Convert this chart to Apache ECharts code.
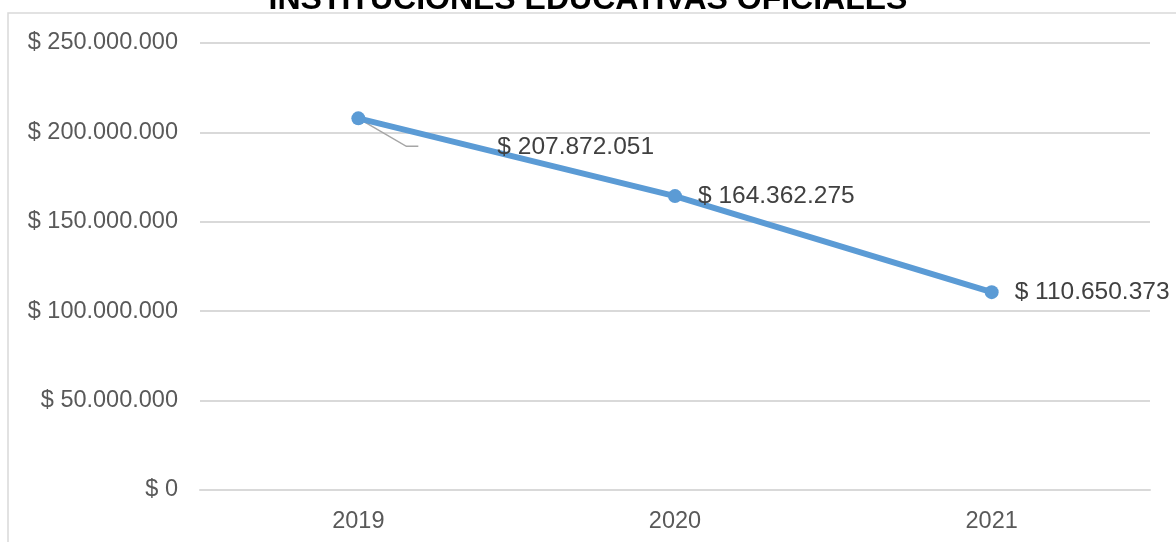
<!DOCTYPE html>
<html>
<head>
<meta charset="utf-8">
<script src="https://cdn.jsdelivr.net/npm/echarts@6/dist/echarts.min.js"></script>
<style>html,body{margin:0;padding:0;background:#fff}#c{width:1176px;height:542px}</style>
</head>
<body>
<div id="c"></div>
<script>
const titleText = 'INSTITUCIONES EDUCATIVAS OFICIALES';
const categories = ['2019', '2020', '2021'];
const values = [207872051, 164362275, 110650373];
const yTicks = { min: 0, max: 250000000, interval: 50000000 };

function fmt(v) {
  return '$ ' + String(Math.round(v)).replace(/\B(?=(\d{3})+(?!\d))/g, '.');
}

const chart = echarts.init(document.getElementById('c'));
chart.setOption({
  backgroundColor: '#ffffff',
  animation: false,
  title: {
    text: titleText,
    left: 'center',
    top: -21,
    textStyle: { fontFamily: 'Liberation Sans', fontWeight: 'bold', fontSize: 32, color: '#000000' }
  },
  graphic: [{
    type: 'rect',
    shape: { x: 8, y: 13, width: 1300, height: 700 },
    style: { fill: 'none', stroke: '#d9d9d9', lineWidth: 1.5 },
    z: -1
  }],
  grid: { left: 200, right: 26, top: 43, bottom: 52 },
  xAxis: {
    type: 'category',
    data: categories,
    boundaryGap: true,
    axisLine: { show: true, lineStyle: { color: '#d9d9d9', width: 2 } },
    axisTick: { show: false },
    axisLabel: { color: '#595959', fontSize: 23.5, fontFamily: 'Liberation Sans', margin: 20 }
  },
  yAxis: {
    type: 'value',
    min: yTicks.min, max: yTicks.max, interval: yTicks.interval,
    axisLine: { show: false },
    axisTick: { show: false },
    splitLine: { lineStyle: { color: '#d9d9d9', width: 2 } },
    axisLabel: { color: '#595959', fontSize: 23.5, fontFamily: 'Liberation Sans', margin: 22, formatter: fmt }
  },
  series: [{
    type: 'line',
    data: values,
    symbol: 'circle',
    symbolSize: 14,
    lineStyle: { color: '#5b9bd5', width: 6 },
    itemStyle: { color: '#5b9bd5' },
    label: {
      show: true,
      position: 'right',
      distance: 16,
      color: '#404040',
      fontSize: 24.5,
      fontFamily: 'Liberation Sans',
      formatter: p => fmt(p.value)
    },
    labelLayout: function (params) {
      if (params.dataIndex === 0) {
        return { dx: 116, dy: 29 };
      }
      return {};
    }
  }]
});

// leader line for the first (moved) label, anchored at the library's pixel for that point
const p0 = chart.convertToPixel({ seriesIndex: 0 }, [0, values[0]]);
chart.setOption({
  graphic: [{
    type: 'rect',
    shape: { x: 8, y: 13, width: 1300, height: 700 },
    style: { fill: 'none', stroke: '#d9d9d9', lineWidth: 1.5 },
    z: -1
  }, {
    type: 'polyline',
    shape: { points: [[p0[0], p0[1]], [p0[0] + 48, p0[1] + 28], [p0[0] + 60, p0[1] + 28]] },
    style: { stroke: '#a6a6a6', lineWidth: 1.5, fill: 'none' },
    z: 1
  }]
});
</script>
</body>
</html>
